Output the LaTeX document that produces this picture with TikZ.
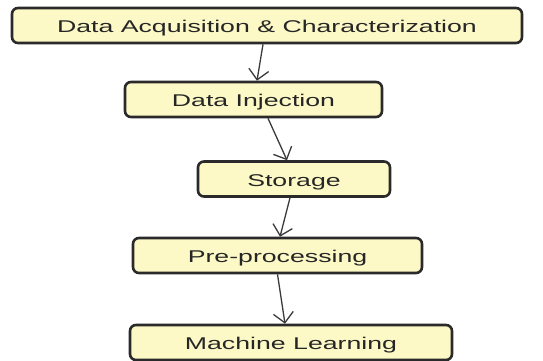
\documentclass[tikz,border=0pt]{standalone}
\usepackage{fontspec}
\setmainfont{Liberation Sans}
\usetikzlibrary{arrows.meta,calc}
\definecolor{boxfill}{HTML}{FCF9C6}
\definecolor{boxline}{HTML}{2A2A2A}
\definecolor{arrline}{HTML}{3A3A3A}
\definecolor{boxtext}{HTML}{262626}
\newcommand{\widetext}[1]{\scalebox{1.57}[1]{#1}}
\tikzset{
  stagebox/.style={draw=boxline, line width=2.6pt, fill=boxfill, rounded corners=6pt,
    minimum height=35pt, inner sep=0pt, text height=14.5pt, text depth=0pt,
    font=\fontsize{17}{20}\selectfont, text=boxtext},
  flowarrow/.style={draw=arrline, line width=1.3pt, -{Straight Barb[length=10pt,width=20pt,line width=1.3pt]}},
}
\begin{document}
\begin{tikzpicture}[x=1pt,y=-1pt]
\useasboundingbox (0,0) rectangle (543,360);
\clip (0,0) rectangle (543,360);
\node[stagebox, minimum width=510pt] (b1) at (267,25.5) {\widetext{Data Acquisition \& Characterization}};
\node[stagebox, minimum width=257pt] (b2) at (253.5,99.5) {\widetext{Data Injection}};
\node[stagebox, minimum width=192pt] (b3) at (294,179) {\widetext{Storage}};
\node[stagebox, minimum width=289pt] (b4) at (277.5,255.5) {\widetext{Pre-processing}};
\node[stagebox, minimum width=322pt] (b5) at (291,342.5) {\widetext{Machine Learning}};
\draw[flowarrow] ($(b1.south)+(-4,0)$) -- ($(b2.north)+(3.5,0)$);
\draw[flowarrow] ($(b2.south)+(14.5,0)$) -- ($(b3.north)+(-7,0)$);
\draw[flowarrow] ($(b3.south)+(-4,0)$) -- ($(b4.north)+(2.5,0)$);
\draw[flowarrow] ($(b4.south)+(0,0)$) -- ($(b5.north)+(-6,0)$);
\end{tikzpicture}
\end{document}
